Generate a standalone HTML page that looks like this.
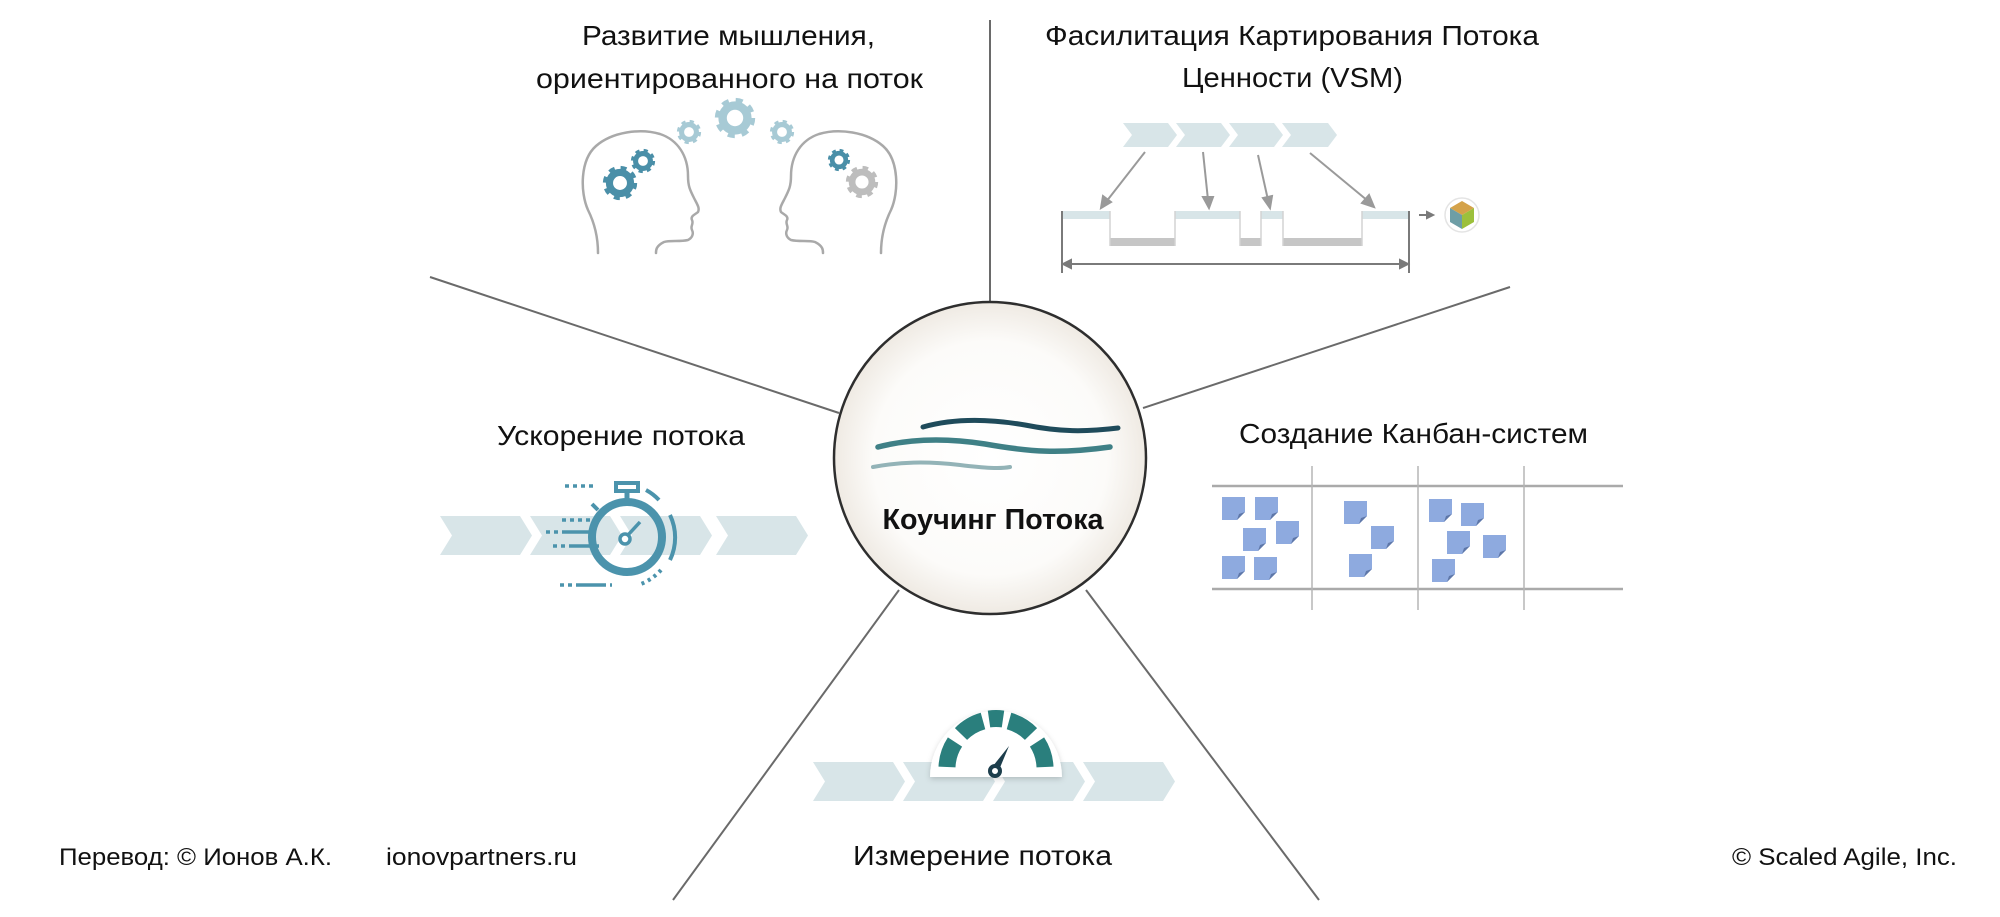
<!DOCTYPE html>
<html><head><meta charset="utf-8"><style>
html,body{margin:0;padding:0;background:#fff;}
svg{display:block;}
text{font-family:"Liberation Sans","Noto Sans CJK SC",sans-serif;fill:#111;}
</style></head><body>
<svg width="2000" height="917" viewBox="0 0 2000 917" xmlns="http://www.w3.org/2000/svg">
<defs>
<radialGradient id="cg" cx="0.5" cy="0.5" r="0.5">
<stop offset="0" stop-color="#ffffff"/><stop offset="0.75" stop-color="#fcfbf9"/><stop offset="1" stop-color="#efeae3"/>
</radialGradient>
<filter id="sh" x="-20%" y="-20%" width="140%" height="140%"><feDropShadow dx="0" dy="2" stdDeviation="3" flood-color="#000" flood-opacity="0.18"/></filter>
<g id="gear"><circle r="0.62" fill="none" stroke-width="0.42"/><circle r="0.86" fill="none" stroke-width="0.3" stroke-dasharray="0.34 0.34"/></g>
<g id="note"><path d="M0,0 H23 V15 L15,23 H0 Z" fill="#8eaadf"/><path d="M23,15 L15,23 L17,17 Z" fill="#5e77a8"/></g>
<path id="chev" d="M0,0 H80 L92,19.5 L80,39 H0 L12,19.5 Z"/>
</defs>

<!-- connector lines -->
<g stroke="#6a6a6a" stroke-width="2" fill="none">
<line x1="990" y1="20" x2="990" y2="302"/>
<line x1="430" y1="277" x2="839" y2="413"/>
<line x1="1510" y1="287" x2="1143" y2="408"/>
<line x1="899" y1="590" x2="673" y2="900"/>
<line x1="1086" y1="590" x2="1319" y2="900"/>
</g>

<!-- center circle -->
<circle cx="990" cy="458" r="156" fill="url(#cg)" stroke="#2e2e2e" stroke-width="2.5"/>
<path d="M923,427 C955,418 990,419 1025,425 C1060,432 1085,432 1118,428" fill="none" stroke="#1f4b5b" stroke-width="5" stroke-linecap="round"/>
<path d="M878,447 C905,440 940,437 985,444 C1030,452 1060,454 1110,447" fill="none" stroke="#3f8086" stroke-width="5.5" stroke-linecap="round"/>
<path d="M873,467 C900,462 925,461 960,465 C985,468 1000,469 1010,467" fill="none" stroke="#93b3b7" stroke-width="4" stroke-linecap="round"/>
<text x="993" y="529" font-size="29" font-weight="bold" text-anchor="middle" textLength="221" lengthAdjust="spacingAndGlyphs">Коучинг Потока</text>

<!-- titles -->
<g font-size="28">
<text x="582" y="45" textLength="293" lengthAdjust="spacingAndGlyphs">Развитие мышления,</text>
<text x="536" y="88" textLength="387" lengthAdjust="spacingAndGlyphs">ориентированного на поток</text>
<text x="1045" y="45" textLength="494" lengthAdjust="spacingAndGlyphs">Фасилитация Картирования Потока</text>
<text x="1182" y="87" textLength="221" lengthAdjust="spacingAndGlyphs">Ценности (VSM)</text>
<text x="497" y="445" textLength="248" lengthAdjust="spacingAndGlyphs">Ускорение потока</text>
<text x="1239" y="443" textLength="349" lengthAdjust="spacingAndGlyphs">Создание Канбан-систем</text>
<text x="853" y="865" textLength="259" lengthAdjust="spacingAndGlyphs">Измерение потока</text>
</g>
<g font-size="24">
<text x="59" y="865" textLength="273" lengthAdjust="spacingAndGlyphs">Перевод: © Ионов А.К.</text>
<text x="386" y="865" textLength="191" lengthAdjust="spacingAndGlyphs">ionovpartners.ru</text>
<text x="1732" y="865" textLength="225" lengthAdjust="spacingAndGlyphs">© Scaled Agile,  Inc.</text>
</g>

<!-- heads -->
<g fill="none" stroke="#a9a9a9" stroke-width="2.5" stroke-linecap="round">
<path d="M598,253 C598,235 594,222 588,210 C580,192 580,160 596,146 C612,132 640,128 660,134 C678,140 688,156 688,176 C688,186 690,190 694,198 C697,204 700,208 698,212 C696,214 690,216 692,220 C694,224 690,226 692,230 C694,234 692,238 688,240 C680,242 670,240 664,242 C656,246 656,250 656,253"/>
<path d="M881,253 C881,235 885,222 891,210 C899,192 899,160 883,146 C867,132 839,128 819,134 C801,140 791,156 791,176 C791,186 789,190 785,198 C782,204 779,208 781,212 C783,214 789,216 787,220 C785,224 789,226 787,230 C785,234 787,238 791,240 C799,242 809,240 815,242 C823,246 823,250 823,253"/>
</g>
<use href="#gear" transform="translate(620,183) scale(17)" stroke="#4a8fa8"/>
<use href="#gear" transform="translate(643,161) scale(12)" stroke="#4a8fa8"/>
<use href="#gear" transform="translate(839,160) scale(11)" stroke="#4a8fa8"/>
<use href="#gear" transform="translate(862,182) scale(16)" stroke="#bdbdbd"/>
<use href="#gear" transform="translate(735,118) scale(20)" stroke="#a7cad5"/>
<use href="#gear" transform="translate(689,132) scale(12)" stroke="#a7cad5"/>
<use href="#gear" transform="translate(782,132) scale(12)" stroke="#a7cad5"/>

<!-- VSM -->
<g fill="#d8e5e8">
<path d="M1123,123 H1168 L1177,135 L1168,147 H1123 L1132,135 Z"/>
<path d="M1176,123 H1221 L1230,135 L1221,147 H1176 L1185,135 Z"/>
<path d="M1229,123 H1274 L1283,135 L1274,147 H1229 L1238,135 Z"/>
<path d="M1282,123 H1328 L1337,135 L1328,147 H1282 L1291,135 Z"/>
</g>
<g stroke="#9a9a9a" stroke-width="2" fill="#9a9a9a">
<line x1="1145" y1="152" x2="1106" y2="202"/><path d="M1101,208 L1103,196 L1111,202 Z"/>
<line x1="1203" y1="152" x2="1208" y2="200"/><path d="M1209,208 L1203,197 L1213,197 Z"/>
<line x1="1258" y1="155" x2="1268" y2="200"/><path d="M1270,208 L1263,198 L1272,196 Z"/>
<line x1="1310" y1="153" x2="1368" y2="201"/><path d="M1374,207 L1362,203 L1369,195 Z"/>
</g>
<g fill="#d8e5e8">
<rect x="1062" y="211" width="48" height="8"/><rect x="1175" y="211" width="65" height="8"/>
<rect x="1261" y="211" width="22" height="8"/><rect x="1362" y="211" width="47" height="8"/>
</g>
<g fill="#c6c6c6">
<rect x="1110" y="238" width="65" height="8"/><rect x="1240" y="238" width="21" height="8"/><rect x="1283" y="238" width="79" height="8"/>
</g>
<g stroke="#d2d2d2" stroke-width="1.5">
<line x1="1110" y1="211" x2="1110" y2="246"/><line x1="1175" y1="211" x2="1175" y2="246"/>
<line x1="1240" y1="211" x2="1240" y2="246"/><line x1="1261" y1="211" x2="1261" y2="246"/>
<line x1="1283" y1="211" x2="1283" y2="246"/><line x1="1362" y1="211" x2="1362" y2="246"/>
</g>
<g stroke="#7a7a7a" stroke-width="2" fill="#7a7a7a">
<line x1="1062" y1="211" x2="1062" y2="273"/><line x1="1409" y1="211" x2="1409" y2="273"/>
<line x1="1066" y1="264" x2="1405" y2="264"/>
<path d="M1063,264 L1071,260 L1071,268 Z"/><path d="M1408,264 L1400,260 L1400,268 Z"/>
<line x1="1419" y1="215" x2="1428" y2="215"/><path d="M1433,215 L1427,212 L1427,218 Z"/>
</g>
<circle cx="1462" cy="215" r="17" fill="none" stroke="#e4e4e4" stroke-width="1.5"/>
<path d="M1462,201 L1474,208 L1462,215 L1450,208 Z" fill="#d4a24a"/>
<path d="M1450,208 L1462,215 L1462,229 L1450,222 Z" fill="#6e9ea6"/>
<path d="M1474,208 L1462,215 L1462,229 L1474,222 Z" fill="#9cc03c"/>

<!-- stopwatch -->
<g fill="#d8e5e8">
<use href="#chev" transform="translate(440,516)"/>
<use href="#chev" transform="translate(530,516)"/>
<use href="#chev" transform="translate(620,516)"/>
<use href="#chev" transform="translate(716,516)"/>
</g>
<g stroke="#4b93ac" fill="none">
<circle cx="627" cy="537" r="35" stroke-width="8"/>
<line x1="627" y1="500" x2="627" y2="490" stroke-width="5"/>
<rect x="616" y="483" width="22" height="8" stroke-width="4"/>
<line x1="598" y1="510" x2="592" y2="504" stroke-width="4"/>
<circle cx="625" cy="539" r="5" stroke-width="3.5"/>
<line x1="628" y1="535" x2="640" y2="522" stroke-width="3.5"/>
<path d="M646,490 A52,52 0 0 1 659,500" stroke-width="4"/>
<path d="M670,515 A52,52 0 0 1 670,560" stroke-width="4"/>
<path d="M661,570 A52,52 0 0 1 638,585" stroke-width="4" stroke-dasharray="3 4"/>
<line x1="565" y1="486" x2="595" y2="486" stroke-width="3.5" stroke-dasharray="4 4"/>
<line x1="562" y1="520" x2="592" y2="520" stroke-width="3.5" stroke-dasharray="4 4"/>
<line x1="546" y1="532" x2="592" y2="532" stroke-width="3.5" stroke-dasharray="4 4 4 4 30"/>
<line x1="553" y1="546" x2="600" y2="546" stroke-width="3.5" stroke-dasharray="4 4 4 4 30"/>
<line x1="560" y1="585" x2="612" y2="585" stroke-width="3.5" stroke-dasharray="4 4 4 4 30"/>
</g>

<!-- gauge -->
<g fill="#d8e5e8">
<use href="#chev" transform="translate(813,762)"/>
<use href="#chev" transform="translate(903,762)"/>
<use href="#chev" transform="translate(993,762)"/>
<use href="#chev" transform="translate(1083,762)"/>
</g>
<path d="M930,777 A66,66 0 0 1 1062,777 Z" fill="#fff" filter="url(#sh)"/>
<g fill="none" stroke="#2a7f7d" stroke-width="17">
<path d="M947,767 A49,49 0 0 1 955,742"/>
<path d="M961,734 A49,49 0 0 1 983,721"/>
<path d="M989,719 A49,49 0 0 1 1003,719"/>
<path d="M1009,721 A49,49 0 0 1 1031,734"/>
<path d="M1037,742 A49,49 0 0 1 1045,767"/>
</g>
<path d="M1009,746 L999,770 L993,766 Z" fill="#1d3e4c"/>
<circle cx="995" cy="771" r="5" fill="#fff" stroke="#1d3e4c" stroke-width="4"/>

<!-- kanban -->
<g stroke="#aaa" stroke-width="2.5">
<line x1="1212" y1="486" x2="1623" y2="486"/><line x1="1212" y1="589" x2="1623" y2="589"/>
</g>
<g stroke="#b5b5b5" stroke-width="1.5">
<line x1="1312" y1="466" x2="1312" y2="610"/><line x1="1418" y1="466" x2="1418" y2="610"/><line x1="1524" y1="466" x2="1524" y2="610"/>
</g>
<use href="#note" x="1222" y="497"/><use href="#note" x="1255" y="497"/>
<use href="#note" x="1243" y="528"/><use href="#note" x="1276" y="521"/>
<use href="#note" x="1222" y="556"/><use href="#note" x="1254" y="557"/>
<use href="#note" x="1344" y="501"/><use href="#note" x="1371" y="526"/><use href="#note" x="1349" y="554"/>
<use href="#note" x="1429" y="499"/><use href="#note" x="1461" y="503"/>
<use href="#note" x="1447" y="531"/><use href="#note" x="1483" y="535"/><use href="#note" x="1432" y="559"/>
</svg>
</body></html>
